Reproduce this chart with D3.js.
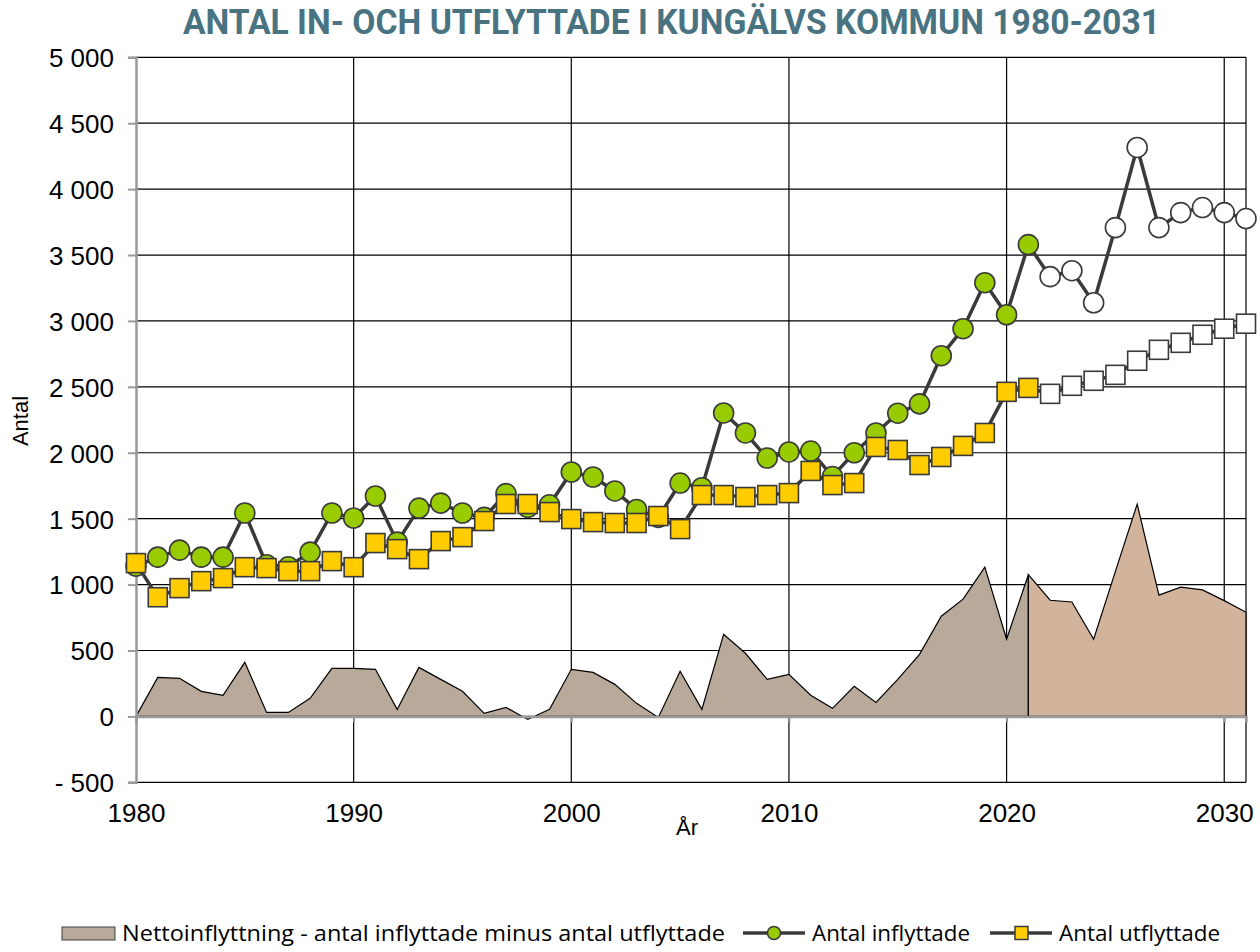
<!DOCTYPE html>
<meta charset="utf-8">
<style>
body { margin: 0; background: #fff; }
.tick text { font-family: "Liberation Sans", Arial, sans-serif; font-size: 26px; fill: #000; }
.title { font-family: Roboto, "DejaVu Sans Condensed", sans-serif; font-weight: bold; font-size: 35px; fill: #4a7382; }
.axlabel { font-family: "Liberation Sans", Arial, sans-serif; font-size: 22px; fill: #000; }
.legend text { font-family: "Open Sans", "Noto Sans", sans-serif; font-size: 22px; fill: #000; }
</style>
<svg width="1260" height="952"></svg>
<script src="https://d3js.org/d3.v7.min.js"></script>
<script>

var years = [1980, 1981, 1982, 1983, 1984, 1985, 1986, 1987, 1988, 1989,
             1990, 1991, 1992, 1993, 1994, 1995, 1996, 1997, 1998, 1999,
             2000, 2001, 2002, 2003, 2004, 2005, 2006, 2007, 2008, 2009,
             2010, 2011, 2012, 2013, 2014, 2015, 2016, 2017, 2018, 2019,
             2020, 2021, 2022, 2023, 2024, 2025, 2026, 2027, 2028, 2029,
             2030, 2031];

var inflyttade = [1140, 1208, 1261, 1208, 1208, 1543, 1150, 1135, 1246, 1543,
                  1505, 1672, 1322, 1580, 1618, 1543, 1510, 1690, 1585, 1605,
                  1854, 1816, 1710, 1570, 1510, 1770, 1735, 2302, 2150, 1960,
                  2006, 2013, 1820, 2000, 2150, 2300, 2371, 2736, 2941, 3290,
                  3047, 3579, 3336, 3381, 3138, 3708, 4316, 3708, 3822, 3860,
                  3822, 3777];

var utflyttade = [1163, 904, 973, 1026, 1049, 1132, 1125, 1102, 1102, 1178,
                  1132, 1315, 1269, 1193, 1330, 1360, 1482, 1611, 1611, 1550,
                  1497, 1474, 1467, 1467, 1520, 1421, 1679, 1679, 1664, 1679,
                  1694, 1862, 1755, 1770, 2044, 2021, 1907, 1968, 2052, 2150,
                  2462, 2492, 2447, 2508, 2546, 2591, 2698, 2781, 2834, 2895,
                  2941, 2979];

var netto = [0, 296, 289, 190, 160, 410, 30, 30, 137, 365,
             365, 357, 53, 372, 281, 190, 23, 68, -23, 53,
             357, 334, 243, 99, -8, 342, 53, 623, 479, 281,
             319, 160, 61, 228, 106, 281, 471, 760, 889, 1132,
             585, 1075, 881, 868, 585, 1100, 1610, 920, 980, 960,
             878, 790];

var lastActual = 2021;   // prognos efter detta år
var yTicks = [-500, 0, 500, 1000, 1500, 2000, 2500, 3000, 3500, 4000, 4500, 5000];
var xTicks = [1980, 1990, 2000, 2010, 2020, 2030];

var svg = d3.select("svg");

var x = d3.scaleLinear().domain([1980, 2031]).range([136, 1246]),
    y = d3.scaleLinear().domain([-500, 5000]).range([782.3, 57.3]);

var se = d3.formatLocale({decimal: ",", thousands: " ", grouping: [3], currency: ["", " kr"]});
var fmt = se.format(",d");

var data = years.map(function(yr, i) {
  return {year: yr, inn: inflyttade[i], ut: utflyttade[i], net: netto[i]};
});

// rutnät
var grid = svg.append("g");
grid.selectAll(".hg")
  .data(yTicks.filter(function(d) { return d !== 0; }))
  .enter().append("line")
    .attr("x1", x(1980)).attr("x2", x(2031))
    .attr("y1", function(d) { return y(d); }).attr("y2", function(d) { return y(d); })
    .attr("stroke", "#000").attr("stroke-width", 1.2);
grid.selectAll(".vg")
  .data(xTicks.filter(function(d) { return d !== 1980; }).concat([2031]))
  .enter().append("line")
    .attr("x1", function(d) { return x(d); }).attr("x2", function(d) { return x(d); })
    .attr("y1", y(5000)).attr("y2", y(-500))
    .attr("stroke", "#000").attr("stroke-width", 1.2);

// nettoinflyttning
var area = d3.area()
    .x(function(d) { return x(d.year); })
    .y0(y(0))
    .y1(function(d) { return y(d.net); });

svg.append("path")
    .datum(data.filter(function(d) { return d.year <= lastActual; }))
    .attr("d", area)
    .attr("fill", "#b8a99a")
    .attr("stroke", "#000").attr("stroke-width", 1.2);

svg.append("path")
    .datum(data.filter(function(d) { return d.year >= lastActual; }))
    .attr("d", area)
    .attr("fill", "#d2b49c")
    .attr("stroke", "#000").attr("stroke-width", 1.2);

// axlar
var yAxis = d3.axisLeft(y)
    .tickValues(yTicks)
    .tickSize(8)
    .tickPadding(14)
    .tickFormat(function(d) { return d < 0 ? "- " + fmt(-d) : fmt(d); });

var gy = svg.append("g")
    .attr("transform", "translate(" + x(1980) + ",0)")
    .call(yAxis);
gy.select(".domain").attr("stroke", "#9a9a9a").attr("stroke-width", 2.5);
gy.selectAll(".tick line").attr("stroke", "#9a9a9a").attr("stroke-width", 2);
gy.selectAll(".tick text").attr("dy", "0.36em");

var xAxis = d3.axisBottom(x)
    .tickValues(xTicks)
    .tickSize(6)
    .tickFormat(d3.format("d"));

var gx = svg.append("g")
    .attr("transform", "translate(0," + y(0) + ")")
    .call(xAxis);
gx.select(".domain").attr("stroke", "#9a9a9a").attr("stroke-width", 2.5);
gx.selectAll(".tick line").attr("stroke", "#9a9a9a").attr("stroke-width", 2);
gx.selectAll(".tick text").attr("y", 106).attr("dy", 0);

// linjer
var line = d3.line().x(function(d) { return x(d.year); });

svg.append("path")
    .datum(data)
    .attr("d", line.y(function(d) { return y(d.inn); }))
    .attr("fill", "none").attr("stroke", "#3a3a3a").attr("stroke-width", 3.5);

svg.selectAll(".inn")
  .data(data)
  .enter().append("circle")
    .attr("class", "inn")
    .attr("cx", function(d) { return x(d.year); })
    .attr("cy", function(d) { return y(d.inn); })
    .attr("r", 10)
    .attr("fill", function(d) { return d.year > lastActual ? "#fff" : "#99cc00"; })
    .attr("stroke", "#3a3a3a").attr("stroke-width", 1.6);

svg.append("path")
    .datum(data)
    .attr("d", line.y(function(d) { return y(d.ut); }))
    .attr("fill", "none").attr("stroke", "#3a3a3a").attr("stroke-width", 3.5);

svg.selectAll(".ut")
  .data(data)
  .enter().append("rect")
    .attr("class", "ut")
    .attr("x", function(d) { return x(d.year) - 9.5; })
    .attr("y", function(d) { return y(d.ut) - 9.5; })
    .attr("width", 19).attr("height", 19)
    .attr("fill", function(d) { return d.year > lastActual ? "#fff" : "#ffcc00"; })
    .attr("stroke", "#3a3a3a").attr("stroke-width", 1.6);

// titel och axeltitlar
svg.append("text")
    .attr("class", "title")
    .attr("x", 671.5).attr("y", 34)
    .attr("text-anchor", "middle")
    .attr("textLength", 977).attr("lengthAdjust", "spacingAndGlyphs")
    .text("ANTAL IN- OCH UTFLYTTADE I KUNGÄLVS KOMMUN 1980-2031");

svg.append("text")
    .attr("class", "axlabel")
    .attr("transform", "translate(28,421) rotate(-90)")
    .attr("text-anchor", "middle")
    .text("Antal");

svg.append("text")
    .attr("class", "axlabel")
    .attr("x", 687).attr("y", 835)
    .attr("text-anchor", "middle")
    .text("År");

// legend
var lg = svg.append("g").attr("class", "legend");
lg.append("rect")
    .attr("x", 62).attr("y", 927).attr("width", 53).attr("height", 13)
    .attr("fill", "#b8a99a").attr("stroke", "#404040").attr("stroke-width", 1);
lg.append("text").attr("x", 122).attr("y", 941)
    .attr("textLength", 603).attr("lengthAdjust", "spacingAndGlyphs")
    .text("Nettoinflyttning - antal inflyttade minus antal utflyttade");

lg.append("line").attr("x1", 743).attr("x2", 805).attr("y1", 933).attr("y2", 933)
    .attr("stroke", "#3a3a3a").attr("stroke-width", 3.5);
lg.append("circle").attr("cx", 774).attr("cy", 933).attr("r", 6.5)
    .attr("fill", "#99cc00").attr("stroke", "#3a3a3a").attr("stroke-width", 1.5);
lg.append("text").attr("x", 812).attr("y", 941)
    .attr("textLength", 158).attr("lengthAdjust", "spacingAndGlyphs")
    .text("Antal inflyttade");

lg.append("line").attr("x1", 990).attr("x2", 1052).attr("y1", 933).attr("y2", 933)
    .attr("stroke", "#3a3a3a").attr("stroke-width", 3.5);
lg.append("rect").attr("x", 1015).attr("y", 926.5).attr("width", 13).attr("height", 13)
    .attr("fill", "#ffcc00").attr("stroke", "#3a3a3a").attr("stroke-width", 1.5);
lg.append("text").attr("x", 1059).attr("y", 941)
    .attr("textLength", 161).attr("lengthAdjust", "spacingAndGlyphs")
    .text("Antal utflyttade");

</script>
